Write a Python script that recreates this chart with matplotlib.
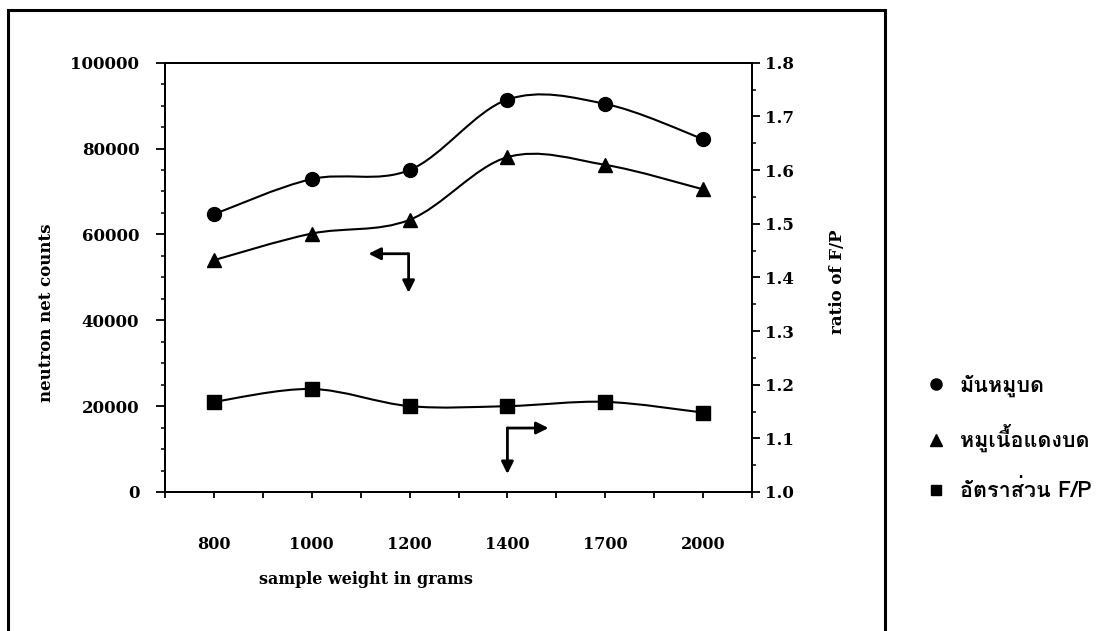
# -*- coding: utf-8 -*-
# neutron net counts vs sample weight, with F/P ratio on the right axis

import numpy as np
import matplotlib
matplotlib.use('Agg')
import matplotlib.pyplot as plt
from matplotlib import font_manager, ft2font
from matplotlib.path import Path
from matplotlib.patches import PathPatch, Rectangle
from matplotlib.lines import Line2D
from matplotlib.ticker import MultipleLocator, FormatStrFormatter

# data
weights = ['800', '1000', '1200', '1400', '1700', '2000']
fat_counts = [64700, 72900, 75000, 91400, 90400, 82200]      # มันหมูบด
lean_counts = [54000, 60200, 63400, 78000, 76200, 70500]     # หมูเนื้อแดงบด
fp_ratio = [1.168, 1.192, 1.160, 1.160, 1.168, 1.148]        # อัตราส่วน F/P

legend_labels = ['มันหมูบด', 'หมูเนื้อแดงบด', 'อัตราส่วน F/P']

# find a font with Thai glyphs, if one is installed
thai_font = None
for f in font_manager.fontManager.ttflist:
    try:
        cmap = ft2font.FT2Font(f.fname).get_charmap()
    except Exception:
        continue
    if 0x0E21 in cmap and 0x0E19 in cmap:
        thai_font = f.name
        break
thai_family = [thai_font, 'DejaVu Serif'] if thai_font else ['DejaVu Serif']

plt.rcParams['font.family'] = 'DejaVu Serif'
plt.rcParams['font.weight'] = 'bold'


def smooth_path(xs, ys):
    # smoothed line through the points (cubic bezier, catmull-rom style)
    pts = np.column_stack([xs, ys]).astype(float)
    n = len(pts)
    verts = [pts[0]]
    codes = [Path.MOVETO]
    for i in range(n - 1):
        p0 = pts[max(i - 1, 0)]
        p1 = pts[i]
        p2 = pts[i + 1]
        p3 = pts[min(i + 2, n - 1)]
        verts += [p1 + (p2 - p0) / 6.0, p2 - (p3 - p1) / 6.0, p2]
        codes += [Path.CURVE4] * 3
    return Path(verts, codes)


W, H = 1120, 631
fig = plt.figure(figsize=(W / 100, H / 100), dpi=100)
ax = fig.add_axes([165 / W, 1 - 492 / H, (752 - 165) / W, (492 - 62.7) / H])
ax2 = ax.twinx()

x = np.arange(len(weights))

# smoothed lines
ax.add_patch(PathPatch(smooth_path(x, fat_counts), fill=False, color='black', lw=1.5))
ax.add_patch(PathPatch(smooth_path(x, lean_counts), fill=False, color='black', lw=1.5))
ax2.add_patch(PathPatch(smooth_path(x, fp_ratio), fill=False, color='black', lw=1.5))

# markers
ax.plot(x, fat_counts, 'o', color='black', markersize=10)
ax.plot(x, lean_counts, '^', color='black', markersize=10)
ax2.plot(x, fp_ratio, 's', color='black', markersize=9.5)

# axes ranges and ticks
ax.set_xlim(-0.5, 5.5)
ax.set_ylim(0, 100000)
ax2.set_ylim(1.0, 1.8)

ax.set_xticks(x)
ax.set_xticklabels(weights)
ax.xaxis.set_minor_locator(MultipleLocator(0.5))
ax.yaxis.set_major_locator(MultipleLocator(20000))
ax.yaxis.set_minor_locator(MultipleLocator(5000))
ax2.yaxis.set_major_locator(MultipleLocator(0.1))
ax2.yaxis.set_minor_locator(MultipleLocator(0.05))
ax2.yaxis.set_major_formatter(FormatStrFormatter('%.1f'))

for a in (ax, ax2):
    for s in a.spines.values():
        s.set_linewidth(1.4)

ax.tick_params(axis='x', which='both', direction='out', length=4, width=1.3, pad=28, labelsize=11.5)
ax.tick_params(axis='y', which='major', direction='out', length=6.5, width=1.3, pad=12, labelsize=12)
ax.tick_params(axis='y', which='minor', direction='out', length=3, width=1.1)
ax2.tick_params(axis='y', which='major', direction='out', length=6, width=1.3, pad=3, labelsize=12)
ax2.tick_params(axis='y', which='minor', direction='out', length=3, width=1.1)

# axis labels
fig.text(366 / W, 1 - 580 / H, 'sample weight in grams', ha='center', va='center', fontsize=11.5)
fig.text(47 / W, 1 - 313 / H, 'neutron net counts', ha='center', va='center', rotation=90, fontsize=12)
fig.text(838 / W, 1 - 282 / H, 'ratio of F/P', ha='center', va='center', rotation=90, fontsize=12)

# L-shaped arrows showing which axis each group belongs to
arrow_kw = dict(arrowstyle='-|>', color='black', lw=2, mutation_scale=18, shrinkA=0, shrinkB=0)
ax.annotate('', xy=(1.58, 55500), xytext=(1.99, 55500), arrowprops=arrow_kw)
ax.annotate('', xy=(1.99, 46400), xytext=(1.99, 55500), arrowprops=arrow_kw)
ax.annotate('', xy=(3.42, 14900), xytext=(3.0, 14900), arrowprops=arrow_kw)
ax.annotate('', xy=(3.0, 4200), xytext=(3.0, 14900), arrowprops=arrow_kw)

# frame around the chart
fig.add_artist(Rectangle((8 / W, -0.05), (885 - 8) / W, 1.05 - 10 / H,
                         transform=fig.transFigure, fill=False, color='black', lw=2.2))

# legend outside the frame
handles = [Line2D([], [], marker='o', ls='none', color='black', markersize=8),
           Line2D([], [], marker='^', ls='none', color='black', markersize=8),
           Line2D([], [], marker='s', ls='none', color='black', markersize=7.5)]
fig.legend(handles, legend_labels, loc='center left', bbox_to_anchor=(904 / W, 1 - 438 / H),
           frameon=False, prop={'family': thai_family, 'size': 15.5, 'weight': 'bold'},
           labelspacing=1.25, handletextpad=0.5, handlelength=1.2)

plt.savefig('out.png', dpi=100)
